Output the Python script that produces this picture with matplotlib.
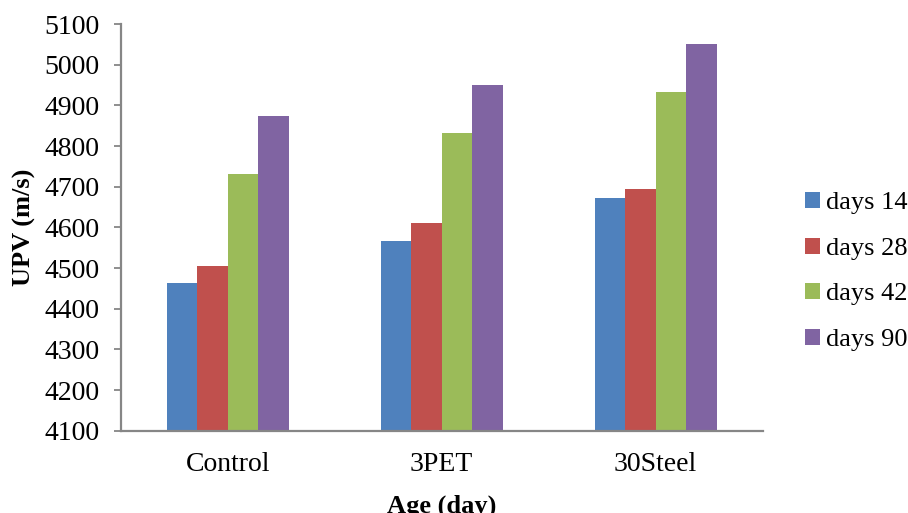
import numpy as np
import matplotlib
matplotlib.use('Agg')
import matplotlib.pyplot as plt

plt.rcParams['font.family'] = ['Liberation Serif', 'DejaVu Serif']

# UPV readings per mix and curing age
mixes = ['Control', '3PET', '30Steel']
series_labels = ['days 14', 'days 28', 'days 42', 'days 90']
upv_14 = [4462, 4566, 4673]
upv_28 = [4504, 4610, 4694]
upv_42 = [4730, 4831, 4933]
upv_90 = [4873, 4950, 5050]
yticks = [4100, 4200, 4300, 4400, 4500, 4600, 4700, 4800, 4900, 5000, 5100]

colors = ['#4F81BD', '#C0504D', '#9BBB59', '#8064A2']
axis_gray = '#868686'

fig = plt.figure(figsize=(9.08, 5.13), dpi=100)
ax = fig.add_axes([0.1329, 0.1604, 0.7070, 0.7928])

x = np.arange(len(mixes))
w = 0.1425
for i, (vals, lab) in enumerate(zip([upv_14, upv_28, upv_42, upv_90], series_labels)):
    ax.bar(x + (i - 1.5) * w, np.array(vals) - 4100, bottom=4100, width=w,
           color=colors[i], label=lab, edgecolor='none', zorder=2)

ax.set_xlim(-0.5, 2.5)
ax.set_ylim(4100, 5100)
ax.set_yticks(yticks)
ax.set_yticklabels([str(t) for t in yticks], fontsize=20)
ax.set_xticks(x)
ax.set_xticklabels(mixes, fontsize=20)
ax.tick_params(axis='x', length=0, pad=15)
ax.tick_params(axis='y', length=5, width=1.3, color=axis_gray, pad=10.5)

for side in ['top', 'right']:
    ax.spines[side].set_visible(False)
for side in ['left', 'bottom']:
    ax.spines[side].set_color(axis_gray)
    ax.spines[side].set_linewidth(1.6)

ax.set_ylabel('UPV (m/s)', fontsize=19, fontweight='bold', labelpad=6)
ax.set_xlabel('Age (day)', fontsize=19, fontweight='bold', labelpad=13)

leg = ax.legend(loc='center left', bbox_to_anchor=(805 / 908, 1 - 271.5 / 513),
                bbox_transform=fig.transFigure, frameon=False,
                fontsize=19, handlelength=0.55, handleheight=0.55,
                handletextpad=0.25, labelspacing=0.88, borderaxespad=0, borderpad=0)

fig.savefig('out.png', dpi=100)
